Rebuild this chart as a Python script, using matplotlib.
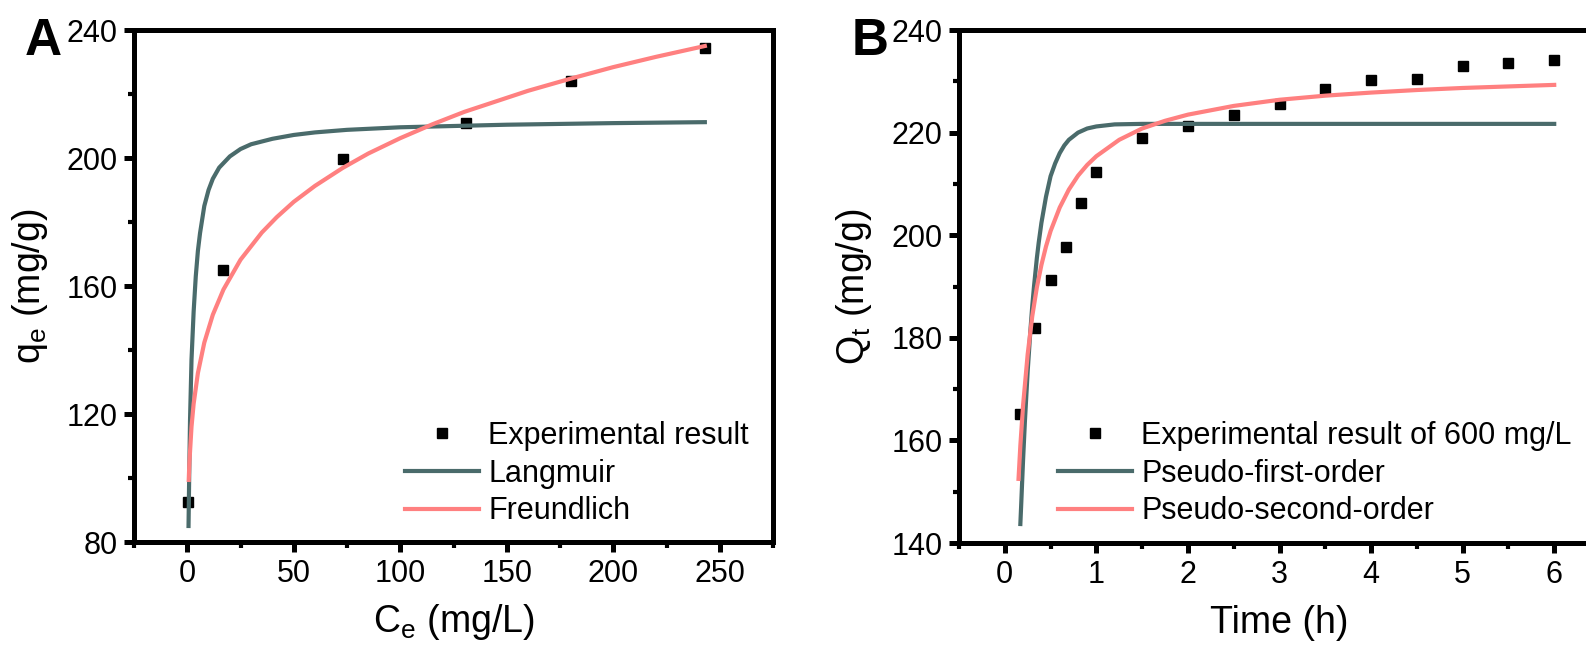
import matplotlib
matplotlib.use('Agg')
import matplotlib.pyplot as plt
from matplotlib.ticker import MultipleLocator

plt.rcParams['font.family'] = ['Liberation Sans', 'DejaVu Sans']
plt.rcParams['mathtext.default'] = 'regular'

# ---------------- Panel A data (isotherm) ----------------
ce_exp = [0.5, 17, 73, 131, 180, 243]
qe_exp = [92.5, 165, 199.6, 211, 224, 234.4]

ce_lang = [0.6, 0.9, 1.3, 2, 3, 4, 5, 6, 8, 10, 12, 15, 20, 25, 30, 40, 50, 60, 75, 100, 150, 200, 243]
qe_lang = [85, 100, 118, 137, 152, 163, 171, 176.5, 185, 190, 193.5, 197, 200.5, 202.8, 204.3, 206.0, 207.2, 208.0, 208.8, 209.6, 210.4, 210.9, 211.2]

ce_freu = [0.7, 1, 2, 3, 5, 8, 12, 17, 25, 35, 42, 50, 60, 73, 85, 100, 115, 130, 160, 180, 200, 220, 243]
qe_freu = [99.4, 104.8, 116.0, 123.2, 132.8, 142.3, 151.0, 158.9, 168.2, 176.7, 181.5, 186.3, 191.3, 196.9, 201.4, 206.2, 210.5, 214.4, 221.0, 224.8, 228.4, 231.6, 235.0]

# ---------------- Panel B data (kinetics) ----------------
t_exp = [0.17, 0.33, 0.5, 0.67, 0.83, 1.0, 1.5, 2.0, 2.5, 3.0, 3.5, 4.0, 4.5, 5.0, 5.5, 6.0]
qt_exp = [165.1, 181.9, 191.3, 197.7, 206.3, 212.3, 218.9, 221.3, 223.4, 225.6, 228.5, 230.3, 230.5, 233.0, 233.6, 234.2]

t_pfo = [0.17, 0.18, 0.19, 0.2, 0.22, 0.25, 0.28, 0.3, 0.32, 0.35, 0.37, 0.4, 0.45, 0.5, 0.55, 0.6, 0.65, 0.7, 0.8, 0.9, 1.0, 1.2, 1.5, 6.0]
qt_pfo = [143.7, 147.8, 152.1, 156.3, 163.8, 173.5, 181.5, 186.2, 190.2, 195.5, 198.5, 202.4, 207.5, 211.5, 214.0, 216.0, 217.5, 218.6, 220.0, 220.8, 221.2, 221.6, 221.7, 221.7]

t_pso = [0.15, 0.17, 0.2, 0.25, 0.3, 0.35, 0.4, 0.45, 0.5, 0.6, 0.7, 0.8, 0.9, 1.0, 1.25, 1.5, 1.75, 2.0, 2.5, 3.0, 3.5, 4.0, 4.5, 5.0, 5.5, 6.0]
qt_pso = [152.5, 159.0, 166.9, 176.8, 184.2, 189.8, 194.2, 197.8, 200.8, 205.4, 208.9, 211.6, 213.7, 215.4, 218.6, 220.8, 222.3, 223.5, 225.2, 226.4, 227.2, 227.8, 228.3, 228.7, 229.0, 229.3]

GREEN = '#4a6b6b'
RED = '#ff8080'

fig = plt.figure(figsize=(15.86, 6.53), dpi=100)
axA = fig.add_axes([134 / 1586, 1 - 542 / 653, (773 - 134) / 1586, (542 - 30) / 653])
axB = fig.add_axes([959 / 1586, 1 - 543 / 653, (1600 - 959) / 1586, (543 - 30) / 653])


def style(ax):
    for s in ax.spines.values():
        s.set_linewidth(3.6)
    ax.tick_params(which='major', direction='out', length=7, width=3.6,
                   labelsize=22, top=False, right=False, pad=5)
    ax.tick_params(which='minor', direction='out', length=4, width=3,
                   top=False, right=False)


LEG = dict(loc='upper left', frameon=False, fontsize=22, numpoints=1,
           handlelength=2.42, handletextpad=0.3, labelspacing=0.25,
           borderpad=0, borderaxespad=0)

# Panel A
axA.plot(ce_exp, qe_exp, 's', color='black', markersize=7.5, label='Experimental result', zorder=2)
axA.plot(ce_lang, qe_lang, '-', color=GREEN, lw=3, label='Langmuir', zorder=3)
axA.plot(ce_freu, qe_freu, '-', color=RED, lw=3, label='Freundlich', zorder=4)
axA.set_xlim(-25, 275)
axA.set_ylim(80, 240)
axA.xaxis.set_major_locator(MultipleLocator(50))
axA.xaxis.set_minor_locator(MultipleLocator(25))
axA.yaxis.set_major_locator(MultipleLocator(40))
axA.yaxis.set_minor_locator(MultipleLocator(20))
style(axA)
axA.set_xlabel('C$_e$ (mg/L)', fontsize=27)
axA.set_ylabel('q$_e$ (mg/g)', fontsize=27)
axA.xaxis.set_label_coords(0.5, -0.118)
axA.yaxis.set_label_coords(-0.131, 0.5)
axA.legend(bbox_to_anchor=(405 / 1586, 1 - 421 / 653), bbox_transform=fig.transFigure, **LEG)

# Panel B
axB.plot(t_exp, qt_exp, 's', color='black', markersize=7.5,
         label='Experimental result of 600 mg/L', zorder=2)
axB.plot(t_pfo, qt_pfo, '-', color=GREEN, lw=3, label='Pseudo-first-order', zorder=3)
axB.plot(t_pso, qt_pso, '-', color=RED, lw=3, label='Pseudo-second-order', zorder=4)
axB.set_xlim(-0.5, 6.5)
axB.set_ylim(140, 240)
axB.xaxis.set_major_locator(MultipleLocator(1))
axB.xaxis.set_minor_locator(MultipleLocator(0.5))
axB.yaxis.set_major_locator(MultipleLocator(20))
axB.yaxis.set_minor_locator(MultipleLocator(10))
style(axB)
axB.set_xlabel('Time (h)', fontsize=27)
axB.set_ylabel('Q$_t$ (mg/g)', fontsize=27)
axB.xaxis.set_label_coords(0.5, -0.12)
axB.yaxis.set_label_coords(-0.133, 0.5)
axB.legend(bbox_to_anchor=(1058 / 1586, 1 - 421 / 653), bbox_transform=fig.transFigure, **LEG)

fig.text(25 / 1586, 1 - 55 / 653, 'A', fontsize=37, fontweight='bold', va='baseline')
fig.text(852 / 1586, 1 - 55 / 653, 'B', fontsize=37, fontweight='bold', va='baseline')

fig.savefig('out.png', dpi=100)
